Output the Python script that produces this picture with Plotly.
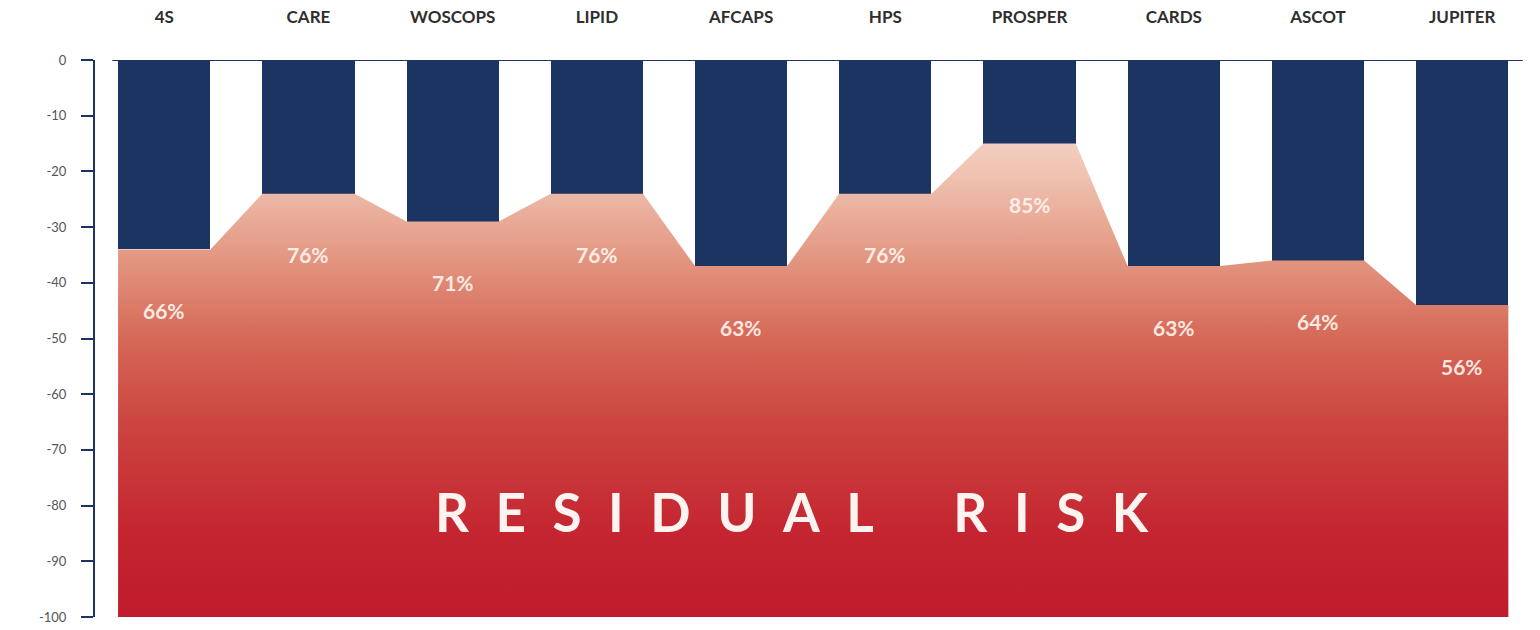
import plotly.graph_objects as go

# Statin trials and the residual cardiovascular risk left after treatment (%)
trials = ["4S", "CARE", "WOSCOPS", "LIPID", "AFCAPS", "HPS", "PROSPER", "CARDS", "ASCOT", "JUPITER"]
residual_risk = [66, 76, 71, 76, 63, 76, 85, 63, 64, 56]
y_ticks = [0, -10, -20, -30, -40, -50, -60, -70, -80, -90, -100]
y_tick_text = [str(t) for t in y_ticks]

# Relative risk reduction shown as bars hanging down from zero
reduction = [r - 100 for r in residual_risk]

NAVY = "#1b3461"
BAR_W = 0.64
x_pos = list(range(len(trials)))

# Outline of the residual-risk area: flat under each bar, sloped across gaps
area_x, area_y = [], []
for xi, v in zip(x_pos, reduction):
    area_x += [xi - BAR_W / 2, xi + BAR_W / 2]
    area_y += [v, v]
area_x += [x_pos[-1] + BAR_W / 2, x_pos[0] - BAR_W / 2]
area_y += [-100, -100]

fig = go.Figure()

fig.add_trace(go.Scatter(
    x=area_x, y=area_y, mode="lines", fill="toself",
    line=dict(width=0),
    fillgradient=dict(
        type="vertical", start=-100, stop=0,
        colorscale=[
            [0.0, "#c01b2c"],
            [0.15, "#c42530"],
            [0.35, "#cc4540"],
            [0.5, "#d66857"],
            [0.65, "#e39883"],
            [0.8, "#f0c4b3"],
            [1.0, "#fbe9e2"],
        ],
    ),
    hoverinfo="skip", showlegend=False,
))

fig.add_trace(go.Bar(
    x=x_pos, y=reduction, width=BAR_W,
    marker=dict(color=NAVY, line=dict(width=0)),
    showlegend=False,
))

# Residual-risk percentages below each bar
for xi, v, r in zip(x_pos, reduction, residual_risk):
    fig.add_annotation(
        x=xi, y=v - 11, text=f"{r}%", showarrow=False,
        font=dict(family="Lato", size=21, color="rgba(255,245,240,0.92)", weight="bold"),
    )

gap = "\u2002"
fig.add_annotation(
    x=4.35, y=-81,
    text=gap.join("RESIDUAL") + gap * 3 + gap.join("RISK"),
    showarrow=False,
    font=dict(family="Lato", size=53, color="#fdf3f0", weight="bold"),
)

# Zero line across the top of the bars
fig.add_shape(
    type="line", xref="x", yref="y",
    x0=-0.36, x1=9.42, y0=0, y1=0,
    line=dict(color=NAVY, width=2),
)

fig.update_layout(
    width=1540, height=630,
    margin=dict(l=95, r=10, t=60, b=13),
    paper_bgcolor="white", plot_bgcolor="white",
    bargap=0,
    xaxis=dict(
        side="top", range=[-0.48, 9.47], automargin=False,
        tickvals=x_pos, ticktext=trials,
        ticks="", showline=False, showgrid=False, zeroline=False,
        ticklabelstandoff=33,
        tickfont=dict(family="Lato", size=17, color="#2e2e2e", weight="bold"),
    ),
    yaxis=dict(
        range=[-100, 0], tickvals=y_ticks, ticktext=y_tick_text, automargin=False,
        ticks="outside", ticklen=12, tickwidth=2, tickcolor=NAVY,
        showline=True, linecolor=NAVY, linewidth=2,
        showgrid=False, zeroline=False,
        ticklabelstandoff=12,
        tickfont=dict(family="Lato", size=13, color="#555555"),
    ),
)

fig.write_html("out.html")
